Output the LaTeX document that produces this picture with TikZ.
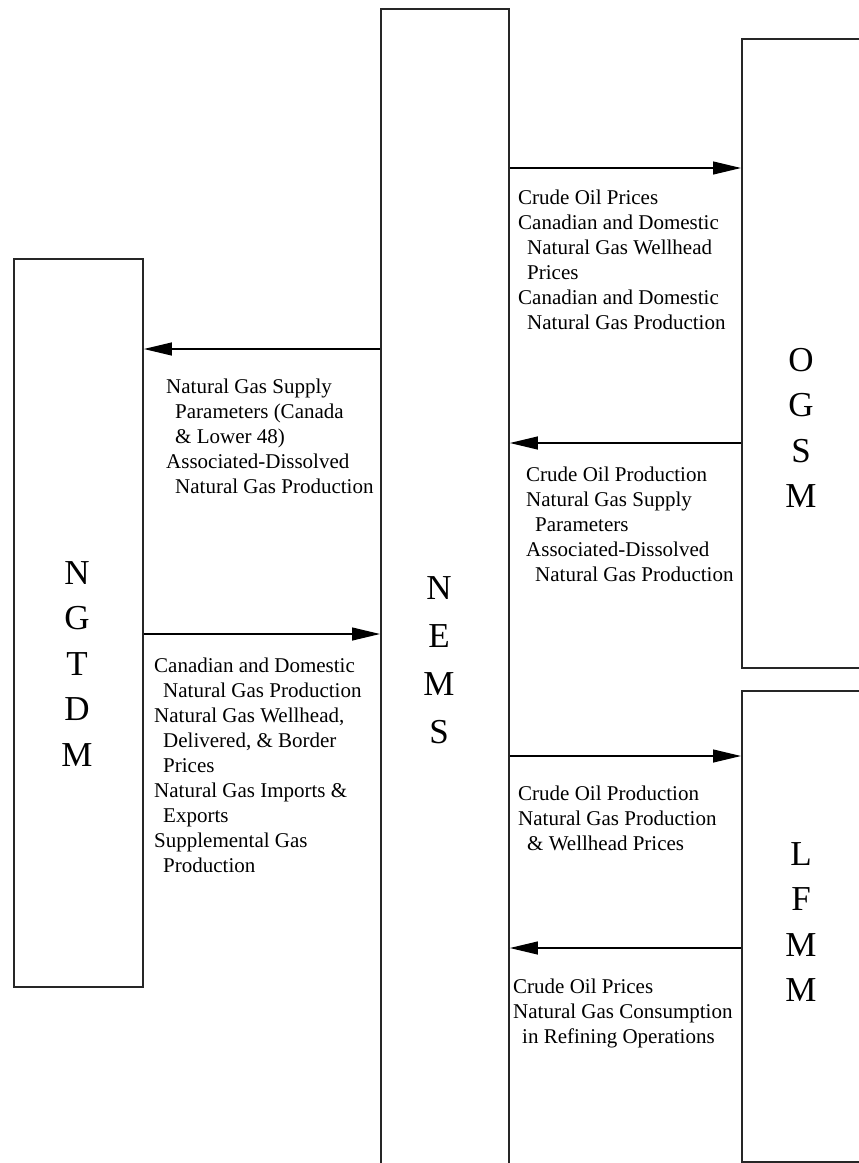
\documentclass[tikz,border=0pt]{standalone}
\usepackage{fontspec}
\setmainfont{Liberation Serif}
\usetikzlibrary{arrows.meta}
\definecolor{edge}{HTML}{262626}
\begin{document}
\begin{tikzpicture}[x=1pt,y=-1pt,
  box/.style={draw=edge, line width=1.9pt, inner sep=0pt, anchor=north west},
  flow/.style={line width=1.2pt, -{Triangle[length=28pt,width=13pt]}},
  info/.style={anchor=north west, inner sep=0pt, align=left,
    font=\fontsize{21}{25}\selectfont},
  letters/.style={inner sep=0pt, align=center,
    font=\fontsize{35}{45.5}\selectfont}]
\useasboundingbox (0,0) rectangle (859,1163);

% module boxes
\node[box, minimum width=128pt, minimum height=1200pt] (nems)  at (380,8)   {};
\node[box, minimum width=140pt, minimum height=629pt]  (ogsm)  at (741,38)  {};
\node[box, minimum width=129pt, minimum height=728pt]  (ngtdm) at (13,258)  {};
\node[box, minimum width=140pt, minimum height=471pt]  (lfmm)  at (741,690) {};

% module names, one letter per line
\node[letters] (ngtdmname) at (77,664) {N\\G\\T\\D\\M};
\node[letters, font=\fontsize{35}{48}\selectfont] (nemsname) at (439,660) {N\\E\\M\\S};
\node[letters] (ogsmname) at (801,428) {O\\G\\S\\M};
\node[letters] (lfmmname) at (801,922) {L\\F\\M\\M};

% heights of the flows
\coordinate (y1) at (0,168);
\coordinate (y2) at (0,349);
\coordinate (y3) at (0,443);
\coordinate (y4) at (0,634);
\coordinate (y5) at (0,756);
\coordinate (y6) at (0,948);

\draw[flow] (nems.east |- y1) -- (ogsm.west |- y1);
\draw[flow] (nems.west |- y2) -- (ngtdm.east |- y2);
\draw[flow] (ogsm.west |- y3) -- (nems.east |- y3);
\draw[flow] (ngtdm.east |- y4) -- (nems.west |- y4);
\draw[flow] (nems.east |- y5) -- (lfmm.west |- y5);
\draw[flow] (lfmm.west |- y6) -- (nems.east |- y6);

% flow labels
\node[info] (toogsm) at (518,189.5) {Crude Oil Prices\\
  Canadian and Domestic\\
  \hspace*{9pt}Natural Gas Wellhead\\
  \hspace*{9pt}Prices\\
  Canadian and Domestic\\
  \hspace*{9pt}Natural Gas Production};

\node[info] (tongtdm) at (166,378.5) {Natural Gas Supply\\
  \hspace*{9pt}Parameters (Canada\\
  \hspace*{9pt}\& Lower 48)\\
  Associated-Dissolved\\
  \hspace*{9pt}Natural Gas Production};

\node[info] (fromogsm) at (526,466.5) {Crude Oil Production\\
  Natural Gas Supply\\
  \hspace*{9pt}Parameters\\
  Associated-Dissolved\\
  \hspace*{9pt}Natural Gas Production};

\node[info] (fromngtdm) at (154,657.5) {Canadian and Domestic\\
  \hspace*{9pt}Natural Gas Production\\
  Natural Gas Wellhead,\\
  \hspace*{9pt}Delivered, \& Border\\
  \hspace*{9pt}Prices\\
  Natural Gas Imports \&\\
  \hspace*{9pt}Exports\\
  Supplemental Gas\\
  \hspace*{9pt}Production};

\node[info] (tolfmm) at (518,786) {Crude Oil Production\\
  Natural Gas Production\\
  \hspace*{9pt}\& Wellhead Prices};

\node[info] (fromlfmm) at (513,979) {Crude Oil Prices\\
  Natural Gas Consumption\\
  \hspace*{9pt}in Refining Operations};
\end{tikzpicture}
\end{document}
